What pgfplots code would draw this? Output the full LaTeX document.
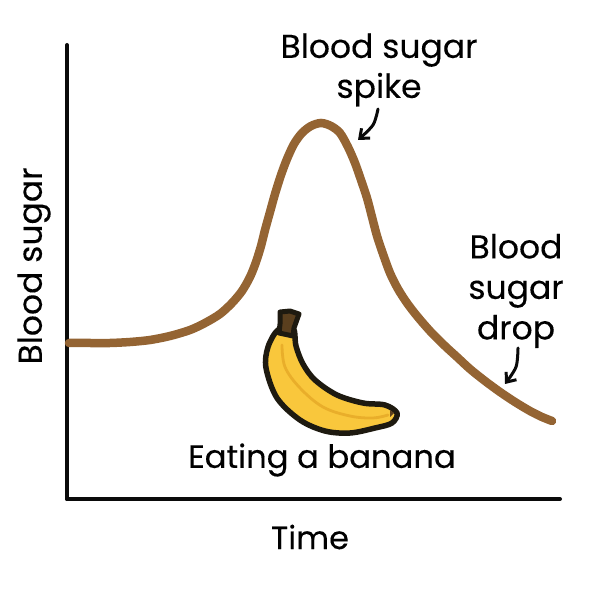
\documentclass[border=0pt]{standalone}
\usepackage{fontspec}
\setmainfont{Poppins}[FakeBold=0.2]
\usepackage{pgfplots}
\pgfplotsset{compat=1.18}
\usetikzlibrary{arrows.meta}
\definecolor{curve}{HTML}{946433}
\definecolor{ink}{HTML}{0A0A0A}
\definecolor{ban}{HTML}{F9C73C}
\definecolor{ridge}{HTML}{E9AE2A}
\definecolor{outl}{HTML}{1E1A10}
\definecolor{stem}{HTML}{5A3F1E}
\begin{document}
\begin{tikzpicture}[x=1pt,y=1pt]
\begin{axis}[
  name=main, at={(67pt,45pt)}, anchor=origin,
  scale only axis, width=493pt, height=454pt,
  xmin=67, xmax=560, ymin=97, ymax=551,
  axis lines=left, axis line style={-, line width=4pt, color=ink, line cap=round},
  xtick=\empty, ytick=\empty, clip=false,
  xlabel={\fontsize{32}{38}\selectfont Time},
  ylabel={\fontsize{33}{38}\selectfont Blood sugar},
  every axis x label/.style={at={(axis cs:310,59)},anchor=center},
  every axis y label/.style={at={(axis cs:34,330)},anchor=center,rotate=90},
]
\path[use as bounding box] (axis cs:0,0) rectangle (axis cs:601,596);
% curve
\addplot[curve, line width=8.5pt, smooth, tension=0.5, line cap=round] coordinates {
(69,253)(90,253)(110,253)(130,254)(150,256)(170,260)(190,266)(205,273)(220,282)(232,293)(242,305)(250,319)(256,334)(261,350)(265,366)(270,384)(275,402)(281,421)(287,437)(294,452)(302,463)(311,470)(321,473)(331,470)(340,463)(348,449)(355,433)(361,416)(367,398)(372,379)(377,360)(383,342)(390,323)(398,307)(407,293)(417,280)(430,265)(445,250)(457,239)(470,227)(485,215)(500,204)(515,194)(530,185)(542,179)(552,175)};
% banana
\addplot[outl, line width=5.5pt, fill=ban, smooth cycle, tension=0.55] coordinates {
(293,268)(296,250)(303,232)(315,216)(337,201)(363,193)(385,191)(397,183)(392,173)(375,168)(350,163)(325,165)(300,176)(277,198)(266,228)(268,249)(278,266)};
\addplot[ridge, line width=2.8pt, smooth, tension=0.6, line cap=round] coordinates {
(282,251)(285,229)(300,208)(323,189)(350,180)(373,178)(388,181)};
\addplot[outl, line width=5pt, line join=round, fill=stem] coordinates {(280,284)(290,285)(299,282)(294,268)(293,260)(279,263)(280,272)} -- cycle;
\addplot[stem, draw=none, fill=stem] coordinates {(390,179)(394,183)(390,186)} -- cycle;
% arrows
\addplot[ink, line width=3pt, smooth, line cap=round, -{Straight Barb[length=8pt,width=13pt,line width=3pt]}] coordinates {(378,487)(373,471)(358,456)};
\addplot[ink, line width=3pt, smooth, line cap=round, -{Straight Barb[length=8pt,width=13pt,line width=3pt]}] coordinates {(518,248)(516,229)(505,212)};
\node[font=\fontsize{33}{40}\selectfont, align=center, anchor=center] at (axis cs:379,526) {Blood sugar\\spike};
\node[font=\fontsize{33}{40.5}\selectfont, align=center, anchor=center] at (axis cs:516,305) {Blood\\sugar\\drop};
\node[font=\fontsize{32.2}{38}\selectfont, anchor=center] at (axis cs:322,136) {Eating a banana};
\end{axis}
\end{tikzpicture}
\end{document}
